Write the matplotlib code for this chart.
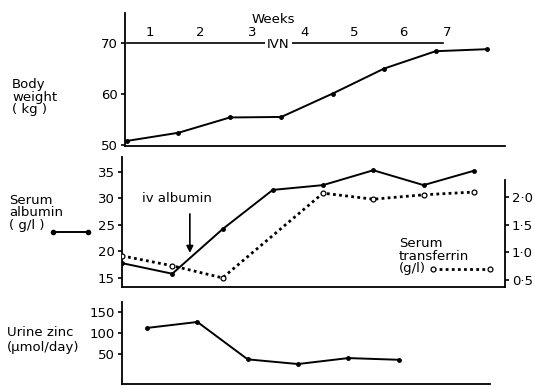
import matplotlib
matplotlib.use("Agg")
import matplotlib.pyplot as plt
from matplotlib.lines import Line2D

# weekly measurements, x in weeks since start of IVN
weight_weeks = [0, 1, 2, 3, 4, 5, 6, 7]
body_weight = [50.8, 52.4, 55.4, 55.5, 60.1, 65.0, 68.4, 68.8]

albumin_weeks = [0, 1, 2, 3, 4, 5, 6, 7]
serum_albumin = [17.8, 15.8, 24.2, 31.6, 32.5, 35.3, 32.5, 35.2]

transferrin_weeks = [0, 1, 2, 4, 5, 6, 7]
serum_transferrin = [0.93, 0.75, 0.53, 2.07, 1.96, 2.04, 2.09]

zinc_weeks = [0.5, 1.5, 2.5, 3.5, 4.5, 5.5]
urine_zinc = [112, 126, 38, 27, 41, 37]

week_labels = ["1", "2", "3", "4", "5", "6", "7"]
week_label_x = [0.45, 1.42, 2.43, 3.46, 4.41, 5.37, 6.22]

W, H = 535, 386
FS = 9.5
plt.rcParams['font.family'] = ['DejaVu Sans']


def box(x0, y0, x1, y1):
    # pixel box (top-left origin) -> figure rect
    return [x0 / W, 1 - y1 / H, (x1 - x0) / W, (y1 - y0) / H]


def px(x, y):
    return x / W, 1 - y / H


def style(ax):
    for s in ['top', 'right']:
        ax.spines[s].set_visible(False)
    ax.spines['left'].set_linewidth(1.3)
    ax.spines['bottom'].set_linewidth(1.3)
    ax.tick_params(axis='y', direction='out', length=3, width=1.2, labelsize=FS, pad=2)
    ax.set_xticks([])
    ax.set_facecolor('none')


fig = plt.figure(figsize=(W / 100, H / 100), dpi=100)

# body weight
ax1 = fig.add_axes(box(125, 13, 505, 146))
style(ax1)
ax1.set_xlim(-0.04, 7.35)
ax1.set_ylim(49.8, 75.9)
ax1.set_yticks([50, 60, 70])
ax1.plot(weight_weeks, body_weight, color='black', lw=1.4, marker='o', ms=2.5)
ax1.plot([0, 6.15], [70, 70], color='black', lw=1.2)
ax1.text(2.94, 69.7, "IVN", ha='center', va='center', fontsize=FS,
         bbox=dict(facecolor='white', edgecolor='none', pad=1.5))
ax1.text(2.84, 74.6, "Weeks", ha='center', va='center', fontsize=FS)
for lab, x in zip(week_labels, week_label_x):
    ax1.text(x, 72.1, lab, ha='center', va='center', fontsize=FS)

# serum albumin and transferrin
ax2 = fig.add_axes(box(122, 157, 505, 287))
style(ax2)
ax2.set_xlim(0, 7.62)
ax2.set_ylim(13.3, 37.8)
ax2.set_yticks([15, 20, 25, 30, 35])
ax2.plot(albumin_weeks, serum_albumin, color='black', lw=1.4, marker='o', ms=2.5)
ax2.annotate("", xy=(1.35, 19.2), xytext=(1.35, 27.6),
             arrowprops=dict(arrowstyle='-|>', color='black', lw=1.2, mutation_scale=10))
ax2.text(1.1, 30.0, "iv albumin", ha='center', va='center', fontsize=FS)

ax3 = ax2.twinx()
ax3.set_ylim(0.364, 2.727)
for s in ['top', 'left', 'bottom']:
    ax3.spines[s].set_visible(False)
ax3.spines['right'].set_linewidth(1.3)
ax3.spines['right'].set_bounds(0.364, 2.3)
ax3.set_yticks([0.5, 1.0, 1.5, 2.0])
ax3.set_yticklabels(["0·5", "1·0", "1·5", "2·0"])
ax3.tick_params(axis='y', direction='out', length=3, width=1.2, labelsize=FS, pad=2)
ax3.plot(transferrin_weeks, serum_transferrin, color='black', lw=2.0, ls=(0, (1, 1.2)),
         marker='o', ms=3.5, mfc='white', mec='black', mew=0.9)

# urine zinc
ax4 = fig.add_axes(box(122, 302, 490, 384))
style(ax4)
ax4.set_xlim(0, 7.32)
ax4.set_ylim(-20, 173)
ax4.set_yticks([50, 100, 150])
ax4.plot(zinc_weeks, urine_zinc, color='black', lw=1.4, marker='o', ms=2.5)

# side labels
fig.text(*px(12, 97), "Body\nweight\n( kg )", ha='left', va='center', fontsize=FS, linespacing=0.95)
fig.text(*px(9, 213), "Serum\nalbumin\n( g/l )", ha='left', va='center', fontsize=FS, linespacing=0.95)
fig.text(*px(7, 340), "Urine zinc\n(μmol/day)", ha='left', va='center', fontsize=FS, linespacing=1.1)
fig.text(*px(399, 256), "Serum\ntransferrin\n(g/l)", ha='left', va='center', fontsize=FS, linespacing=0.95)

# key samples next to the labels
(x0, y0), (x1, _) = px(53, 232), px(88, 232)
fig.add_artist(Line2D([x0, x1], [y0, y0], transform=fig.transFigure, color='black',
                      lw=1.4, marker='o', ms=3))
(x0, y0), (x1, _) = px(433, 269), px(490, 269)
fig.add_artist(Line2D([x0, x1], [y0, y0], transform=fig.transFigure, color='black',
                      lw=2.0, ls=(0, (1, 1.2)), marker='o', ms=3.5, mfc='white', mew=0.9))

fig.savefig("out.png", dpi=100)
